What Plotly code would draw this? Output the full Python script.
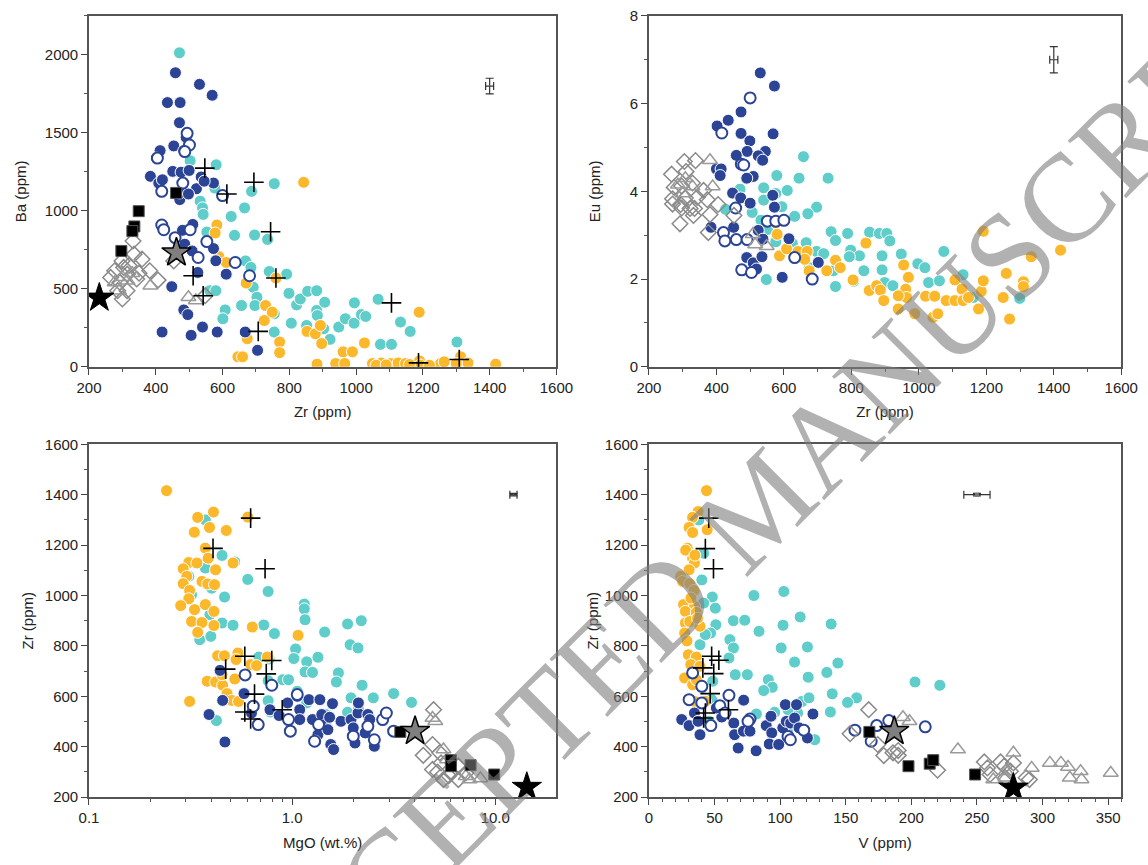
import plotly.graph_objects as go
import numpy as np

# ---------------- Panel A: Zr vs Ba ----------------
A_blue_zr = [459,531,569,435,473,471,491,413,402,454,484,384,409,420,451,476,500,536,522,573,
             472,472,498,480,511,487,509,573,526,611,448,484,496,540,419,506,584,668,705,580,545]
A_blue_ba = [1885,1811,1741,1694,1694,1565,1471,1386,1338,1416,1386,1221,1178,1199,1253,1248,1259,1217,1142,1178,
             1072,1115,1108,875,913,786,743,758,605,594,514,365,335,255,223,202,223,223,106,680,1190]
A_open_zr = [494,501,418,481,487,418,424,458,503,553,527,600,638,681,405]
A_open_ba = [1497,1422,1125,1178,1380,909,879,828,879,803,701,1098,669,584,1338]
A_teal_zr = [471,503,581,755,687,666,533,540,542,626,636,696,735,553,577,641,669,685,740,792,
             692,703,697,657,608,601,755,755,799,822,833,855,882,882,906,884,903,922,806,852,
             948,968,995,994,1016,1029,1066,1073,1106,1133,1162,1302,562,580]
A_teal_ba = [2013,1321,1295,1174,1125,1019,1062,1019,977,964,843,845,817,864,1146,673,679,637,611,594,
             510,446,393,393,365,308,340,223,471,397,435,484,488,361,414,329,244,176,280,265,
             255,308,410,280,335,323,433,144,144,287,227,159,488,488]
A_orng_zr = [843,583,578,589,611,671,760,729,749,725,674,771,771,646,660,853,878,893,897,961,
             989,1025,1189,883,939,966,1049,1076,1104,1126,1148,1190,1253,1264,1313,1335,1418,1192,
             1060,1090,1160,1220,1300]
A_orng_ba = [1183,909,858,707,669,537,569,393,350,297,180,159,91,64,64,227,212,265,149,96,
             96,153,350,17,21,21,21,25,21,25,21,38,21,32,64,25,17,11,
             10,12,15,10,20]
A_cross_zr = [547,694,613,744,760,512,542,707,1106,1187,1309]
A_cross_ba = [1274,1183,1108,866,569,584,456,227,410,25,47]
A_sq_zr = [461,349,336,330,297]
A_sq_ba = [1115,998,900,870,743]
A_bstar_zr, A_bstar_ba = [231], [442]
A_gstar_zr, A_gstar_ba = [462], [732]
A_dia_zr = [332,335,359,299,277,265,293,315,304,382,407,343,314,300,286,454,548,320,350]
A_dia_ba = [807,722,690,679,616,573,541,594,637,616,556,563,488,435,488,679,456,650,600]
A_tri_zr = [277,315,384,290,498,520,330,300]
A_tri_ba = [541,552,520,488,446,425,600,575]

# ---------------- Panel B: Zr vs Eu ----------------
B_blue_zr = [530,572,473,435,402,473,568,499,545,491,524,459,537,400,414,411,509,490,448,472,
             500,567,572,384,451,524,538,615,490,509,519,535,595,702]
B_blue_eu = [6.70,6.40,5.81,5.62,5.49,5.32,5.31,5.15,4.91,4.91,4.81,4.82,4.71,4.51,4.51,4.36,4.34,4.30,3.96,3.85,
             3.73,3.91,3.64,3.18,3.18,3.11,2.91,2.92,2.49,2.37,2.23,2.51,2.04,2.38]
B_open_zr = [500,416,474,481,457,421,425,459,491,551,576,600,475,504,684,632]
B_open_eu = [6.13,5.33,4.62,4.60,3.62,3.06,2.87,2.90,2.90,3.32,3.32,3.34,2.21,2.15,2.00,2.49]
B_teal_zr = [658,731,645,579,610,540,576,470,427,506,540,594,697,671,632,532,551,576,666,625,
             740,753,789,854,883,905,914,798,824,794,697,718,747,753,807,837,891,891,899,923,
             948,997,1018,1029,1061,1074,1131,1161,1299,548,675]
B_teal_eu = [4.79,4.30,4.30,4.36,4.02,4.08,3.95,4.05,3.59,3.52,3.80,3.65,3.64,3.49,3.43,3.34,3.13,2.85,2.83,2.81,
             3.08,2.88,3.04,3.07,3.04,3.04,2.87,2.66,2.53,2.51,2.63,2.58,2.19,1.83,1.95,2.19,2.53,2.21,1.92,1.85,
             2.57,2.35,2.26,1.92,1.96,2.63,2.10,1.58,1.56,1.99,2.26]
B_orng_zr = [576,580,587,608,642,669,662,675,727,753,767,843,805,853,875,886,896,955,969,961,
             964,939,939,988,1020,1047,1042,1056,1081,1107,1107,1128,1131,1147,1177,1185,1191,1191,1250,1259,
             1269,1310,1310,1333,1420]
B_orng_eu = [3.28,3.02,2.53,2.69,2.63,2.63,2.45,2.19,2.19,2.43,2.26,2.82,1.98,1.74,1.85,1.75,1.51,2.32,2.04,1.77,
             1.58,1.62,1.32,1.21,1.61,1.61,1.13,1.21,1.51,1.51,1.98,1.77,1.51,1.58,1.32,1.72,1.96,3.09,1.58,2.13,
             1.09,1.94,1.83,2.51,2.66]
B_dia_zr = [267,305,338,310,275,297,329,362,343,308,270,270,294,322,335,297,373,405,381,332,292,376,452]
B_dia_eu = [4.39,4.68,4.70,4.45,4.09,4.12,4.19,4.02,3.86,3.85,3.83,3.71,3.70,3.61,3.61,3.62,3.81,3.70,3.47,3.45,3.26,3.06,3.45]
B_tri_zr = [381,389,329,286,308,508,515,549,300]
B_tri_eu = [4.71,4.11,4.11,4.15,4.30,3.02,2.79,2.75,3.95]

# ---------------- Panel C: MgO vs Zr ----------------
C_orng_mgo = [0.241,0.41,0.343,0.605,0.330,0.392,0.474,0.374,0.386,0.42,0.512,0.31,0.291,0.34,0.303,0.291,0.313,0.36,0.384,0.415,
              0.31,0.331,0.374,0.283,0.412,0.32,0.36,0.412,0.343,0.637,1.07,0.43,0.464,0.541,0.53,0.625,0.668,0.755,0.382,0.42,
              0.455,0.522,0.478,0.505,0.545,0.313,0.452]
C_orng_zr = [1416,1331,1310,1311,1251,1270,1258,1188,1148,1102,1129,1131,1106,1129,1076,1047,1020,1056,1046,1043,
             987,944,964,960,937,897,893,881,854,875,842,761,761,772,746,726,722,756,660,657,
             644,669,611,584,580,580,686]
C_teal_mgo = [0.374,0.452,0.522,0.374,0.31,0.32,0.402,0.465,0.605,0.762,1.148,1.148,1.158,0.394,0.452,0.512,0.725,0.818,0.351,0.398,
              1.446,1.875,2.19,1.93,2.11,1.04,1.02,1.18,1.34,0.686,0.771,1.158,1.26,1.69,1.652,0.9,0.96,0.762,2.21,1.06,
              2.51,3.16,3.87,1.95,2.12,1.18,1.46,1.875,0.762,0.784,0.424]
C_teal_zr = [1300,1159,1133,1109,1076,1003,1029,994,1064,1016,966,947,904,924,891,882,883,849,825,838,
             855,887,900,805,792,788,750,737,755,756,748,697,695,693,657,666,666,662,644,620,
             594,611,576,594,550,574,528,537,583,538,504]
C_blue_mgo = [0.442,0.39,0.467,0.455,0.58,0.631,0.778,0.95,1.06,1.21,1.37,1.09,0.863,1.09,1.26,1.4,1.46,1.53,1.58,1.34,
              1.5,1.74,1.95,2.11,2.36,2.41,2.0,2.29,1.55,1.6,2.04,2.54,1.30,2.12]
C_blue_zr = [703,528,419,584,611,534,547,574,600,587,587,547,524,508,508,528,488,517,571,448,
             468,501,508,534,528,508,475,455,409,389,415,402,422,574]
C_open_mgo = [0.587,0.794,1.06,0.96,0.98,0.644,0.681,1.35,1.29,2.0,2.36,2.54,2.79,2.91,3.16]
C_open_zr = [685,644,607,508,462,561,488,488,422,442,481,428,508,534,462]
C_cross_mgo = [0.625,0.408,0.736,0.585,0.471,0.794,0.746,0.653,0.585,0.625,0.894]
C_cross_zr = [1307,1187,1106,759,708,742,689,609,538,510,547]
C_sq_mgo = [3.41,6.05,6.05,7.56,9.88]
C_sq_zr = [459,347,323,327,290]
C_bstar_mgo, C_bstar_zr = [14.3], [240]
C_gstar_mgo, C_gstar_zr = [4.03], [462]
C_dia_mgo = [4.97,4.91,4.42,5.33,4.91,5.56,6.58,7.16,6.05,6.58,5.41,5.2,5.9]
C_dia_zr = [547,409,366,376,310,270,270,296,296,323,336,300,285]
C_tri_mgo = [4.91,5.07,5.56,7.16,8.45,7.47,5.8]
C_tri_zr = [514,501,389,283,274,270,350]

# ---------------- Panel D: V vs Zr ----------------
D_orng_v = [43.9,37.5,33.3,30.6,33.3,44.4,29.2,33.3,34.7,30.6,24.2,25.6,31.1,34.4,26.4,34.7,27.8,36.1,27.8,31.1,
            38.9,27.2,30,36.1,31.9,38.9,27.2,33.3,36.1,34.7,43,28,35,32,37,29]
D_orng_zr = [1416,1333,1310,1270,1250,1261,1188,1148,1129,1102,1076,1056,1047,1020,964,957,937,933,891,897,
             878,851,765,756,726,719,673,646,666,580,580,1180,1160,990,910,820]
D_teal_v = [102.8,80,115.3,138.9,102.2,83.9,64.4,73,61.7,64.4,100.8,120.8,111,144,135.6,121.4,65.8,75,91,94,
            87.5,139.7,116.7,122,158.3,151.4,138.3,113.3,106,95.8,81.9,202.8,221.7,126.4,105.6,40.3,48.3,50.6,41.7,51,
            38.9,47,43,61,48.6,38,41.7,47.8,45.8]
D_teal_zr = [1016,1000,915,887,882,858,900,902,825,792,792,796,736,732,695,676,686,686,666,636,
             623,610,580,594,594,576,538,534,547,537,530,657,644,428,470,1062,994,950,970,884,
             805,851,845,752,660,1300,1168,587,501]
D_blue_v = [25,30.6,38.9,34.7,37.5,72.2,64.7,65.3,68,72,77,81.7,89.4,93,93.6,91.7,98.9,102,104.7,108,
            111,104,112.5,125,114.4,120.8,55.5,51.4]
D_blue_zr = [508,484,448,534,501,585,494,448,395,462,462,384,484,521,455,411,409,475,501,494,
             514,567,567,530,475,435,518,554]
D_open_v = [33.3,40.3,30.6,40.3,54,61,58,47.2,77,75.5,106,107.8,118,157,169.4,173.6,182.8,210.6]
D_open_zr = [693,640,587,574,563,604,534,484,510,501,441,428,466,466,422,484,504,479]
D_cross_v = [45.6,43,49.2,47.8,53.3,41.1,49.4,46.7,60.6,43,41.7]
D_cross_zr = [1307,1186,1106,759,743,713,690,611,547,534,514]
D_sq_v = [168,197.8,214,216.7,248.6]
D_sq_zr = [459,323,333,347,290]
D_bstar_v, D_bstar_zr = [277.8], [237]
D_gstar_v, D_gstar_zr = [187], [462]
D_dia_v = [167.5,153.3,174.4,179,186,190,190,220,255.6,258,260,268,270.8,275.5,277.8,271.7,287.5,290]
D_dia_zr = [547,452,409,365,376,385,366,307,340,316,290,340,323,303,336,277,277,270]
D_tri_v = [193.6,198.6,235.5,262.5,277.8,272,291.7,305.6,314,319.4,320.8,329,329.7,352,271.7]
D_tri_zr = [517,501,389,270,376,303,316,336,336,320,277,303,270,296,277]

# error bars (x, y, ex, ey) per panel
ERR_A = ([1400], [1800], [12], [50])
ERR_B = ([1400], [7.0], [12], [0.3])
ERR_C = ([12.3], [1400], [0.5], [5])
ERR_D = ([250], [1400], [10], [5])

# ---------------- styles ----------------
BLUE = "#2c4496"
TEAL = "#5fcdc9"
ORNG = "#fcb82b"
GRAY = "#8a8a8a"

STY = {
    "teal": dict(symbol="circle", size=12, color=TEAL, line=dict(color="white", width=1)),
    "orng": dict(symbol="circle", size=12, color=ORNG, line=dict(color="white", width=1)),
    "blue": dict(symbol="circle", size=12, color=BLUE, line=dict(color="white", width=1)),
    "open": dict(symbol="circle", size=11, color="white", line=dict(color=BLUE, width=2)),
    "dia": dict(symbol="diamond-open", size=12, color=GRAY, line=dict(color=GRAY, width=1.5)),
    "tri": dict(symbol="triangle-up-open", size=13, color="#9a9a9a", line=dict(color="#9a9a9a", width=1.5)),
    "sq": dict(symbol="square", size=11, color="black", line=dict(color="#555", width=1)),
    "cross": dict(symbol="cross-thin", size=14, color="black", line=dict(color="black", width=1.6)),
    "bstar": dict(symbol="star", size=22, color="black", line=dict(color="black", width=1)),
    "gstar": dict(symbol="star", size=22, color="#7f7f7f", line=dict(color="black", width=1.5)),
}

fig = go.Figure()

def add(xs, ys, key, ax):
    fig.add_trace(go.Scatter(x=xs, y=ys, mode="markers", marker=STY[key],
                             xaxis="x" + ax, yaxis="y" + ax, showlegend=False, hoverinfo="skip"))

def add_err(err, ax, mk=False):
    x, y, ex, ey = err
    fig.add_trace(go.Scatter(
        x=x, y=y, mode="markers", xaxis="x" + ax, yaxis="y" + ax, showlegend=False,
        marker=dict(symbol="square", size=4 if mk else 1, color="#777"),
        error_x=dict(type="data", array=ex, color="#333", thickness=1.2, width=4),
        error_y=dict(type="data", array=ey, color="#333", thickness=1.2, width=4)))

# Panel A
add(A_teal_zr, A_teal_ba, "teal", "")
add(A_orng_zr, A_orng_ba, "orng", "")
add(A_blue_zr, A_blue_ba, "blue", "")
add(A_open_zr, A_open_ba, "open", "")
add(A_dia_zr, A_dia_ba, "dia", "")
add(A_tri_zr, A_tri_ba, "tri", "")
add(A_sq_zr, A_sq_ba, "sq", "")
add(A_cross_zr, A_cross_ba, "cross", "")
add(A_bstar_zr, A_bstar_ba, "bstar", "")
add(A_gstar_zr, A_gstar_ba, "gstar", "")
add_err(ERR_A, "")
# Panel B
add(B_teal_zr, B_teal_eu, "teal", "2")
add(B_orng_zr, B_orng_eu, "orng", "2")
add(B_blue_zr, B_blue_eu, "blue", "2")
add(B_open_zr, B_open_eu, "open", "2")
add(B_dia_zr, B_dia_eu, "dia", "2")
add(B_tri_zr, B_tri_eu, "tri", "2")
add_err(ERR_B, "2")
# Panel C
add(C_teal_mgo, C_teal_zr, "teal", "3")
add(C_orng_mgo, C_orng_zr, "orng", "3")
add(C_blue_mgo, C_blue_zr, "blue", "3")
add(C_open_mgo, C_open_zr, "open", "3")
add(C_dia_mgo, C_dia_zr, "dia", "3")
add(C_tri_mgo, C_tri_zr, "tri", "3")
add(C_sq_mgo, C_sq_zr, "sq", "3")
add(C_cross_mgo, C_cross_zr, "cross", "3")
add(C_bstar_mgo, C_bstar_zr, "bstar", "3")
add(C_gstar_mgo, C_gstar_zr, "gstar", "3")
add_err(ERR_C, "3")
# Panel D
add(D_teal_v, D_teal_zr, "teal", "4")
add(D_orng_v, D_orng_zr, "orng", "4")
add(D_blue_v, D_blue_zr, "blue", "4")
add(D_open_v, D_open_zr, "open", "4")
add(D_dia_v, D_dia_zr, "dia", "4")
add(D_tri_v, D_tri_zr, "tri", "4")
add(D_sq_v, D_sq_zr, "sq", "4")
add(D_cross_v, D_cross_zr, "cross", "4")
add(D_bstar_v, D_bstar_zr, "bstar", "4")
add(D_gstar_v, D_gstar_zr, "gstar", "4")
add_err(ERR_D, "4", mk=True)

FONT = dict(family="Liberation Sans, Arial, sans-serif", size=15, color="#222")
W, H = 1148, 865
XL = [78 / W, 558 / W]
XR = [653 / W, 1138 / W]
YT = [1 - 365 / H, 1 - 7 / H]
YB = [1 - 804 / H, 1 - 444 / H]

def axis(domain, anchor, title, standoff, **kw):
    d = dict(domain=domain, anchor=anchor, showgrid=False, zeroline=False,
             showline=True, linecolor="#555", linewidth=1.5, mirror=True,
             ticks="outside", ticklen=6, tickwidth=1.3, tickcolor="#444",
             tickfont=FONT, title=dict(text=title, font=FONT, standoff=standoff))
    d.update(kw)
    return d

minor_lin = lambda dt: dict(ticks="outside", ticklen=3.5, tickwidth=1.1, tickcolor="#555", dtick=dt, showgrid=False)
log_minor = [m * 10 ** e for e in (-1, 0) for m in range(2, 10)]

fig.update_layout(
    width=W, height=H, margin=dict(l=0, r=0, t=0, b=0),
    paper_bgcolor="white", plot_bgcolor="white",
    xaxis=axis(XL, "y", "Zr (ppm)", 12, range=[200, 1600], tick0=200, dtick=200, minor=minor_lin(100)),
    yaxis=axis(YT, "x", "Ba (ppm)", 15, range=[0, 2250], tick0=0, dtick=500, minor=minor_lin(250)),
    xaxis2=axis(XR, "y2", "Zr (ppm)", 12, range=[200, 1600], tick0=200, dtick=200, minor=minor_lin(100)),
    yaxis2=axis(YT, "x2", "Eu (ppm)", 26, range=[0, 8], tick0=0, dtick=2, minor=minor_lin(1)),
    xaxis3=axis(XL, "y3", "MgO (wt.%)", 13, type="log", range=[-1, np.log10(20)],
                tickmode="array", tickvals=[0.1, 1, 10], ticktext=["0.1", "1.0", "10.0"],
                minor=dict(ticks="outside", ticklen=3.5, tickwidth=1.1, tickcolor="#555",
                           tickmode="array", tickvals=log_minor, showgrid=False)),
    yaxis3=axis(YB, "x3", "Zr (ppm)", 8, range=[200, 1600], tick0=200, dtick=200, minor=minor_lin(100)),
    xaxis4=axis(XR, "y4", "V (ppm)", 13, range=[0, 360], tick0=0, dtick=50, minor=minor_lin(10)),
    yaxis4=axis(YB, "x4", "Zr (ppm)", 3, range=[200, 1600], tick0=200, dtick=200, minor=minor_lin(100)),
    annotations=[dict(
        text="ACCEPTED MANUSCRIPT", xref="paper", yref="paper",
        x=768 / W, y=1 - 505 / H, xanchor="center", yanchor="middle",
        textangle=-45, showarrow=False,
        font=dict(family="Liberation Serif, Times New Roman, serif", size=125,
                  color="rgba(125,125,125,0.6)"))],
)

fig.write_html("out.html")
